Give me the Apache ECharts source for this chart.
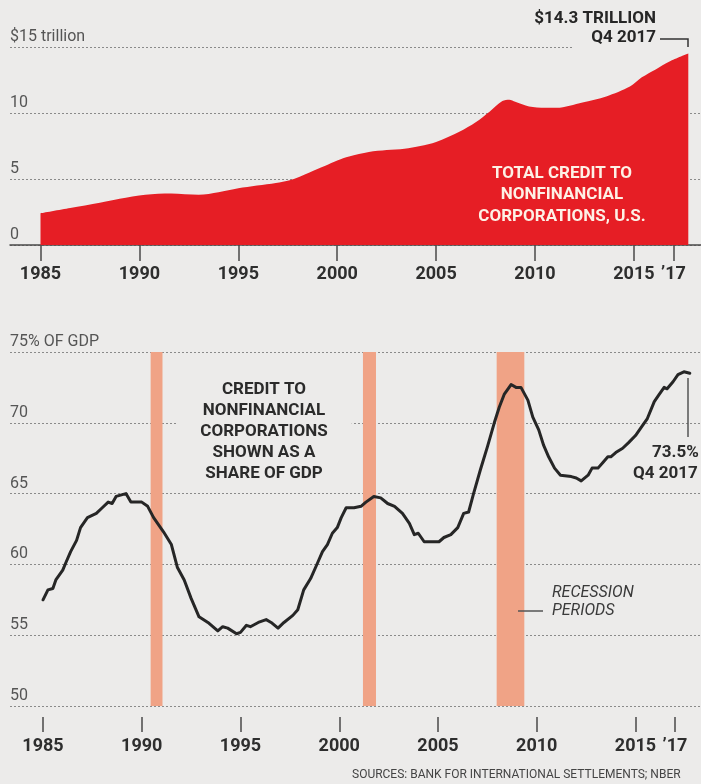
<!DOCTYPE html>
<html>
<head>
<meta charset="utf-8">
<script src="https://cdn.jsdelivr.net/npm/echarts@6/dist/echarts.min.js"></script>
<style>
  html, body { margin: 0; padding: 0; background: #ecebea; }
  #chart { width: 701px; height: 784px; }
</style>
</head>
<body>
<div id="chart"></div>
<script>
// ---------- DATA ----------
const creditYears  = [1985, 1986.5, 1988, 1989, 1990.3, 1991.6, 1993, 1994, 1995, 1996.9, 1997.6, 1998.6, 1999.4, 2000, 2000.6, 2001.6, 2002.5, 2003.4, 2004.2, 2005, 2006.2, 2007, 2007.7, 2008.35, 2008.7, 2009.0, 2009.7, 2010.5, 2011.1, 2012.4, 2013.6, 2014.8, 2015.4, 2016.1, 2016.8, 2017.75];
const creditValues = [2.4, 2.8, 3.2, 3.5, 3.8, 3.9, 3.8, 4.0, 4.3, 4.7, 4.9, 5.5, 6.0, 6.4, 6.7, 7.05, 7.2, 7.3, 7.5, 7.8, 8.6, 9.3, 10.1, 10.9, 11.0, 10.85, 10.5, 10.4, 10.4, 10.8, 11.25, 12.0, 12.7, 13.3, 13.9, 14.5];

const gdpYears = [1985.0, 1985.25, 1985.5, 1985.65, 1986.0, 1986.15, 1986.4, 1986.7, 1986.9, 1987.25, 1987.7, 1988.0, 1988.3, 1988.5, 1988.7, 1989.2, 1989.45, 1990.0, 1990.3, 1990.6, 1991.1, 1991.5, 1991.8, 1992.15, 1992.5, 1992.9, 1993.35, 1993.85, 1994.1, 1994.35, 1994.8, 1995.0, 1995.3, 1995.5, 1995.9, 1996.3, 1996.55, 1996.9, 1997.2, 1997.65, 1997.9, 1998.2, 1998.55, 1998.9, 1999.15, 1999.4, 1999.65, 1999.9, 2000.1, 2000.35, 2000.75, 2001.1, 2001.35, 2001.75, 2002.1, 2002.45, 2002.8, 2003.2, 2003.55, 2003.8, 2004.0, 2004.3, 2004.65, 2005.05, 2005.3, 2005.65, 2006.0, 2006.3, 2006.55, 2006.8, 2007.15, 2007.5, 2007.85, 2008.1, 2008.35, 2008.7, 2008.95, 2009.2, 2009.55, 2009.8, 2010.1, 2010.35, 2010.6, 2010.9, 2011.2, 2011.75, 2012.0, 2012.25, 2012.6, 2012.8, 2013.1, 2013.35, 2013.6, 2013.75, 2014.0, 2014.35, 2014.65, 2015.0, 2015.35, 2015.6, 2015.95, 2016.2, 2016.45, 2016.6, 2016.9, 2017.15, 2017.45, 2017.75];
const gdpShare = [57.5, 58.2, 58.3, 58.9, 59.6, 60.1, 60.9, 61.7, 62.6, 63.3, 63.6, 64.0, 64.4, 64.3, 64.8, 65.0, 64.4, 64.4, 64.1, 63.3, 62.3, 61.4, 59.8, 58.9, 57.6, 56.3, 55.9, 55.3, 55.6, 55.5, 55.1, 55.2, 55.7, 55.6, 55.9, 56.1, 55.9, 55.5, 55.9, 56.4, 56.8, 58.2, 59.0, 60.1, 60.9, 61.4, 62.2, 62.6, 63.3, 64.0, 64.0, 64.1, 64.4, 64.8, 64.7, 64.3, 64.1, 63.6, 62.9, 62.1, 62.2, 61.6, 61.6, 61.6, 61.9, 62.1, 62.6, 63.6, 63.7, 65.0, 66.7, 68.3, 70.0, 71.1, 72.0, 72.7, 72.5, 72.5, 71.6, 70.4, 69.5, 68.4, 67.6, 66.8, 66.3, 66.2, 66.1, 65.9, 66.3, 66.8, 66.8, 67.2, 67.6, 67.6, 67.9, 68.2, 68.6, 69.1, 69.8, 70.3, 71.5, 72.0, 72.5, 72.4, 72.9, 73.4, 73.6, 73.5];

const recessionStart = [1990.45, 2001.2, 2007.97];
const recessionEnd   = [1991.05, 2001.86, 2009.37];

const xTickYears = [1985, 1990, 1995, 2000, 2005, 2010, 2015, 2017];

// ---------- CHART ----------
const BG = '#ecebea';
const FONT = 'Roboto, "Noto Sans", sans-serif';
const chart = echarts.init(document.getElementById('chart'), null, { renderer: 'canvas' });

const xLabelFmt = v => (Math.round(v) === 2017 ? '\u201917' : String(Math.round(v)));

const yLabelCommon = {
  inside: true, margin: 0, align: 'left', verticalAlign: 'bottom',
  padding: [0, 0, 2, 0], color: '#555', fontFamily: FONT, fontSize: 16,
  showMinLabel: true, showMaxLabel: true
};
const gridLine = { show: true, lineStyle: { color: '#8a8a8a', type: [2, 2], width: 1 } };

const option = {
  backgroundColor: BG,
  animation: false,
  grid: [
    { left: 10, right: 0, top: 47, height: 198 },
    { left: 10, right: 0, top: 352, height: 354 }
  ],
  xAxis: [
    {
      gridIndex: 0, type: 'value', min: 1983.458, max: 2018.392,
      splitLine: { show: false },
      axisLine: { show: true, onZero: false, lineStyle: { color: '#4a4a4a', width: 1.5 } },
      axisTick: { show: true, length: 16, customValues: xTickYears, lineStyle: { color: '#4a4a4a', width: 1.5 } },
      axisLabel: { customValues: xTickYears, formatter: xLabelFmt, margin: 20, color: '#2e2e2e', fontFamily: FONT, fontWeight: 'bold', fontSize: 18 }
    },
    {
      gridIndex: 1, type: 'value', min: 1983.329, max: 2018.316, offset: 11,
      splitLine: { show: false },
      axisLine: { show: false },
      axisTick: { show: true, length: 15, customValues: xTickYears, lineStyle: { color: '#4a4a4a', width: 1.5 } },
      axisLabel: { customValues: xTickYears, formatter: xLabelFmt, margin: 20, color: '#2e2e2e', fontFamily: FONT, fontWeight: 'bold', fontSize: 18 }
    }
  ],
  yAxis: [
    {
      gridIndex: 0, type: 'value', min: 0, max: 15, interval: 5,
      axisLine: { show: false }, axisTick: { show: false },
      splitLine: gridLine,
      axisLabel: Object.assign({}, yLabelCommon, { formatter: v => (v === 15 ? '$15 trillion' : String(v)) })
    },
    {
      gridIndex: 1, type: 'value', min: 50, max: 75, interval: 5,
      axisLine: { show: false }, axisTick: { show: false },
      splitLine: gridLine,
      axisLabel: Object.assign({}, yLabelCommon, { formatter: v => (v === 75 ? '75% OF GDP' : String(v)) })
    }
  ],
  series: [
    {
      type: 'line', xAxisIndex: 0, yAxisIndex: 0,
      data: creditYears.map((y, i) => [y, creditValues[i]]),
      symbol: 'none', smooth: 0.3,
      lineStyle: { width: 0 },
      areaStyle: { color: '#e61e25', opacity: 1 },
      z: 3
    },
    {
      type: 'line', xAxisIndex: 1, yAxisIndex: 1,
      data: gdpYears.map((y, i) => [y, gdpShare[i]]),
      symbol: 'none',
      lineStyle: { color: '#262626', width: 3, join: 'round', cap: 'round' },
      markArea: {
        silent: true,
        itemStyle: { color: '#f0a386', opacity: 1 },
        data: recessionStart.map((s, i) => [{ xAxis: s }, { xAxis: recessionEnd[i] }])
      },
      z: 3
    }
  ],
  graphic: [
    // hide part of the 15 gridline behind the annotation
    { type: 'rect', shape: { x: 572, y: 44, width: 129, height: 6 }, style: { fill: BG }, z: 10 },
    { type: 'text', x: 656, y: 19, z: 11, style: { text: '$14.3 TRILLION', align: 'right', verticalAlign: 'middle', font: 'bold 17px ' + FONT, fill: '#262626' } },
    { type: 'text', x: 656, y: 38, z: 11, style: { text: 'Q4 2017', align: 'right', verticalAlign: 'middle', font: 'bold 17px ' + FONT, fill: '#262626' } },
    { type: 'polyline', z: 11, shape: { points: [[660, 39], [688, 39], [688, 47]] }, style: { stroke: '#333', lineWidth: 1.5, fill: null } },
    { type: 'text', x: 562, y: 195, z: 11, style: { text: 'TOTAL CREDIT TO\nNONFINANCIAL\nCORPORATIONS, U.S.', align: 'center', verticalAlign: 'middle', lineHeight: 21.5, font: 'bold 17px ' + FONT, fill: '#fdf1e6' } },
    { type: 'text', x: 264, y: 432, z: 11, style: { text: 'CREDIT TO\nNONFINANCIAL\nCORPORATIONS\nSHOWN AS A\nSHARE OF GDP', align: 'center', verticalAlign: 'middle', lineHeight: 21, font: 'bold 17px ' + FONT, fill: '#2b2b2b', backgroundColor: BG, padding: [4, 24] } },
    { type: 'line', z: 11, shape: { x1: 688, y1: 378, x2: 688, y2: 437 }, style: { stroke: '#555', lineWidth: 1.5 } },
    { type: 'text', x: 652, y: 453, z: 11, style: { text: '73.5%', align: 'left', verticalAlign: 'middle', font: 'bold 17px ' + FONT, fill: '#2b2b2b' } },
    { type: 'text', x: 633, y: 474, z: 11, style: { text: 'Q4 2017', align: 'left', verticalAlign: 'middle', font: 'bold 17px ' + FONT, fill: '#2b2b2b' } },
    { type: 'line', z: 11, shape: { x1: 518, y1: 611, x2: 543, y2: 611 }, style: { stroke: '#555', lineWidth: 1.5 } },
    { type: 'text', x: 552, y: 593, z: 11, style: { text: 'RECESSION', align: 'left', verticalAlign: 'middle', font: 'italic 16px ' + FONT, fill: '#3a3a3a' } },
    { type: 'text', x: 552, y: 611, z: 11, style: { text: 'PERIODS', align: 'left', verticalAlign: 'middle', font: 'italic 16px ' + FONT, fill: '#3a3a3a' } },
    { type: 'text', x: 352, y: 775, z: 11, style: { text: 'SOURCES: BANK FOR INTERNATIONAL SETTLEMENTS; NBER', align: 'left', verticalAlign: 'middle', font: '12px ' + FONT, fill: '#444' } }
  ]
};
chart.setOption(option);
</script>
</body>
</html>
